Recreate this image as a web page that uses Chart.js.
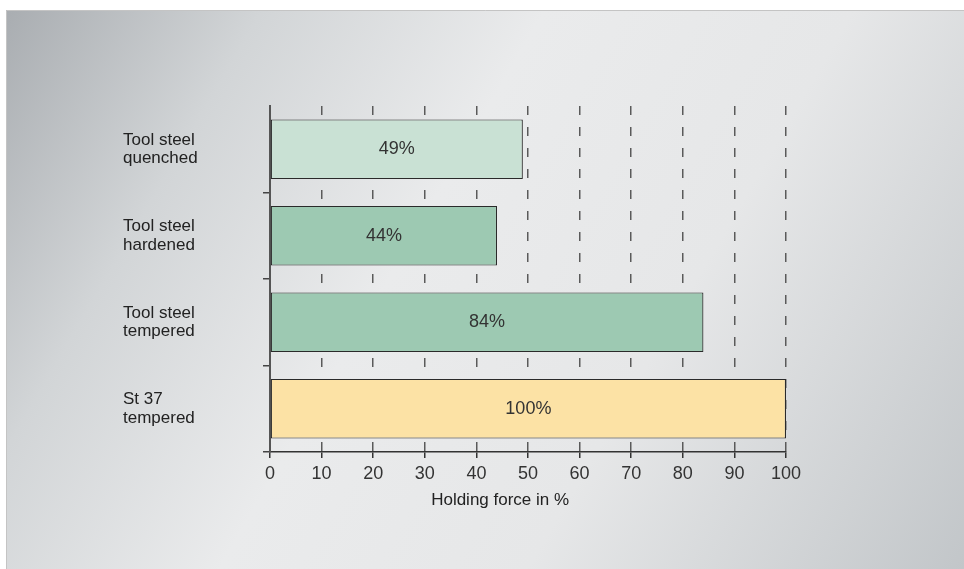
<!DOCTYPE html>
<html>
<head>
<meta charset="utf-8">
<script src="https://cdn.jsdelivr.net/npm/chart.js@4"></script>
<style>
  html, body { margin: 0; padding: 0; background: #fff; overflow: hidden; }
  #wrap { width: 964px; height: 569px; }
  canvas { display: block; }
</style>
</head>
<body>
<div id="wrap"><canvas id="holding_force_chart" width="964" height="569"></canvas></div>
<script>
// steels and measured holding force (% of St 37)
var materials = [['Tool steel', 'quenched'], ['Tool steel', 'hardened'], ['Tool steel', 'tempered'], ['St 37', 'tempered']];
var holdingForce = [49, 44, 84, 100];
var valueLabels = ['49%', '44%', '84%', '100%'];
var barColors = ['#c9e1d4', '#9dc9b2', '#9dc9b2', '#fce2a5'];
var xTicks = [0, 10, 20, 30, 40, 50, 60, 70, 80, 90, 100];
var axisTitle = 'Holding force in %';

var FONT = "'Liberation Sans', Arial, sans-serif";

// grey panel with diagonal gradient
var panelBg = {
  id: 'panelBg',
  beforeDraw: function(chart) {
    var ctx = chart.ctx;
    ctx.save();
    ctx.fillStyle = '#ffffff';
    ctx.fillRect(0, 0, chart.width, chart.height);
    var g = ctx.createLinearGradient(6, 10, 964, 569);
    g.addColorStop(0, '#a9adb1');
    g.addColorStop(0.2, '#d2d5d7');
    g.addColorStop(0.42, '#eaebec');
    g.addColorStop(0.66, '#e6e7e8');
    g.addColorStop(1, '#c2c6c9');
    ctx.fillStyle = g;
    ctx.fillRect(6, 10, chart.width - 6, chart.height - 10);
    ctx.strokeStyle = '#c4c4c4';
    ctx.lineWidth = 1;
    ctx.beginPath();
    ctx.moveTo(6.5, chart.height);
    ctx.lineTo(6.5, 10.5);
    ctx.lineTo(chart.width, 10.5);
    ctx.stroke();
    ctx.restore();
  }
};

// percentage in the middle of each bar + the x axis caption (sits left of centre in the original)
var barValues = {
  id: 'barValues',
  afterDatasetsDraw: function(chart) {
    var ctx = chart.ctx;
    var meta = chart.getDatasetMeta(0);
    ctx.save();
    ctx.font = '18px ' + FONT;
    ctx.fillStyle = '#333';
    ctx.textAlign = 'center';
    ctx.textBaseline = 'middle';
    meta.data.forEach(function(bar, i) {
      ctx.fillText(valueLabels[i], (bar.base + bar.x) / 2, bar.y);
    });
    var xs = chart.scales.x;
    ctx.font = '17px ' + FONT;
    ctx.fillStyle = '#222';
    ctx.fillText(axisTitle, xs.getPixelForValue(44.6), xs.top + 48);
    ctx.restore();
  }
};

var ctx = document.getElementById('holding_force_chart').getContext('2d');
var chart = new Chart(ctx, {
  type: 'bar',
  data: {
    labels: materials,
    datasets: [{
      data: holdingForce,
      backgroundColor: barColors,
      borderColor: '#2a2a2a',
      borderWidth: 1.2,
      borderSkipped: false,
      barPercentage: 0.69,
      categoryPercentage: 1
    }]
  },
  options: {
    indexAxis: 'y',
    responsive: false,
    animation: false,
    layout: { padding: { left: 123, top: 106, right: 178, bottom: 0 } },
    plugins: {
      legend: { display: false },
      tooltip: { enabled: false }
    },
    scales: {
      x: {
        min: 0,
        max: 100,
        afterBuildTicks: function(scale) {
          scale.ticks = xTicks.map(function(v) { return { value: v }; });
        },
        afterFit: function(scale) { scale.height = 117; },
        grid: {
          color: '#5a5a5a',
          lineWidth: 1.5,
          drawTicks: true,
          tickLength: 6,
          tickColor: '#333',
          tickWidth: 1.5,
          tickBorderDash: []
        },
        border: { display: true, color: '#333', width: 1.5, dash: [9, 12] },
        ticks: {
          color: '#333',
          font: { family: FONT, size: 18 },
          padding: 5,
          maxRotation: 0
        },
        title: { display: false }
      },
      y: {
        afterFit: function(scale) { scale.width = 147; },
        grid: {
          drawOnChartArea: false,
          drawTicks: true,
          tickLength: 7,
          offset: true,
          color: function(c) { return c.index === 0 ? 'rgba(0,0,0,0)' : '#444'; },
          lineWidth: 1.5
        },
        border: { display: true, color: '#555', width: 2 },
        ticks: {
          crossAlign: 'far',
          color: '#222',
          font: { family: FONT, size: 17, lineHeight: 1.08 }
        }
      }
    }
  },
  plugins: [panelBg, barValues]
});
</script>
</body>
</html>
